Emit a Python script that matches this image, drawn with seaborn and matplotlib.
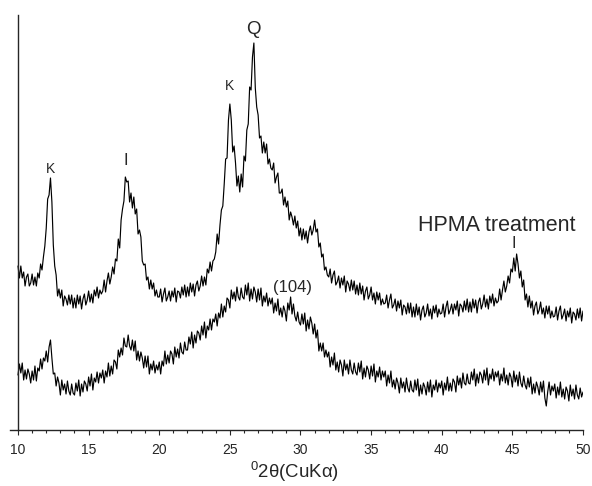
import numpy as np
import pandas as pd
import matplotlib
matplotlib.use('Agg')
import matplotlib.pyplot as plt
import seaborn as sns
from matplotlib.ticker import MultipleLocator

# XRD scans, 10-50 deg 2theta, step 0.1 deg, intensity in arbitrary units
# upper trace: HPMA treatment
upper = [
    164, 152, 164, 152, 158, 144, 153, 156, 144, 147,  # 10
    156, 145, 153, 144, 157, 152, 166, 160, 173, 184,  # 11
    202, 231, 235, 252, 228, 185, 164, 155, 134, 141,  # 12
    132, 140, 124, 134, 131, 125, 135, 126, 135, 122,  # 13
    132, 122, 135, 126, 134, 121, 131, 136, 125, 130,  # 14
    139, 128, 136, 127, 140, 134, 143, 132, 140, 136,  # 15
    139, 150, 138, 149, 157, 146, 153, 163, 156, 171,  # 16
    169, 191, 182, 210, 221, 229, 253, 248, 249, 228,  # 17
    237, 222, 233, 216, 221, 196, 200, 193, 169, 165,  # 18
    166, 150, 153, 141, 150, 141, 147, 134, 140, 133,  # 19
    133, 141, 128, 136, 142, 129, 133, 139, 129, 139,  # 20
    133, 142, 128, 139, 138, 132, 143, 135, 145, 133,  # 21
    143, 134, 147, 138, 146, 134, 145, 149, 139, 144,  # 22
    154, 144, 153, 145, 161, 157, 168, 159, 169, 171,  # 23
    178, 196, 186, 205, 220, 224, 246, 271, 272, 310,  # 24
    326, 310, 278, 284, 267, 244, 254, 238, 256, 243,  # 25
    274, 269, 300, 306, 343, 340, 373, 387, 342, 323,  # 26
    315, 292, 294, 277, 288, 277, 286, 266, 271, 262,  # 27
    260, 267, 247, 253, 257, 237, 237, 241, 225, 233,  # 28
    223, 229, 210, 218, 213, 205, 214, 202, 209, 194,  # 29
    202, 190, 201, 191, 199, 187, 198, 204, 195, 200,  # 30
    210, 198, 201, 183, 187, 173, 176, 160, 163, 155,  # 31
    153, 161, 147, 155, 159, 145, 148, 154, 142, 152,  # 32
    145, 154, 138, 149, 146, 139, 150, 140, 149, 136,  # 33
    145, 135, 147, 136, 144, 130, 139, 143, 131, 135,  # 34
    143, 130, 137, 126, 138, 130, 137, 125, 131, 126,  # 35
    127, 135, 122, 130, 136, 122, 125, 131, 119, 129,  # 36
    122, 130, 115, 125, 123, 116, 127, 117, 127, 113,  # 37
    123, 113, 126, 115, 123, 110, 120, 124, 113, 117,  # 38
    126, 114, 121, 111, 124, 117, 125, 113, 121, 116,  # 39
    117, 126, 113, 123, 129, 116, 120, 126, 116, 126,  # 40
    120, 129, 114, 126, 124, 118, 129, 120, 131, 118,  # 41
    128, 118, 131, 122, 130, 117, 128, 132, 121, 126,  # 42
    135, 123, 131, 121, 134, 127, 136, 124, 132, 127,  # 43
    129, 141, 130, 140, 149, 138, 144, 154, 147, 161,  # 44
    158, 172, 159, 176, 166, 152, 159, 143, 150, 130,  # 45
    136, 123, 134, 122, 129, 115, 124, 128, 116, 120,  # 46
    128, 116, 122, 112, 124, 116, 124, 112, 119, 113,  # 47
    114, 123, 110, 119, 124, 111, 115, 121, 109, 119,  # 48
    113, 122, 107, 118, 116, 110, 121, 112, 122, 109,  # 49
    119,
]
# lower trace: untreated
lower = [
    55, 66, 57, 67, 50, 60, 51, 61, 56, 47,  # 10
    59, 50, 64, 49, 62, 59, 71, 61, 72, 69,  # 11
    79, 68, 83, 90, 72, 56, 57, 44, 53, 47,  # 12
    35, 50, 40, 46, 36, 49, 39, 35, 46, 37,  # 13
    35, 47, 39, 50, 34, 46, 38, 49, 46, 39,  # 14
    53, 44, 56, 40, 52, 48, 58, 47, 57, 52,  # 15
    60, 47, 59, 53, 67, 54, 64, 56, 70, 68,  # 16
    61, 80, 73, 82, 75, 92, 84, 83, 95, 84,  # 17
    80, 90, 79, 89, 70, 79, 69, 78, 72, 62,  # 18
    74, 63, 74, 56, 66, 60, 69, 57, 65, 60,  # 19
    68, 56, 69, 64, 79, 66, 75, 67, 79, 76,  # 20
    66, 83, 73, 81, 72, 87, 78, 76, 88, 80,  # 21
    80, 93, 86, 98, 82, 95, 87, 99, 97, 90,  # 22
    104, 95, 108, 92, 104, 100, 111, 100, 111, 108,  # 23
    116, 104, 117, 112, 126, 113, 124, 118, 132, 130,  # 24
    122, 140, 131, 138, 129, 143, 133, 130, 142, 133,  # 25
    131, 145, 135, 147, 129, 141, 131, 143, 138, 128,  # 26
    141, 130, 142, 124, 134, 128, 137, 124, 132, 126,  # 27
    132, 117, 127, 119, 131, 115, 122, 113, 124, 119,  # 28
    109, 127, 120, 133, 116, 126, 114, 109, 118, 108,  # 29
    105, 116, 106, 117, 99, 110, 101, 113, 107, 96,  # 30
    106, 92, 100, 79, 87, 79, 87, 73, 80, 73,  # 31
    78, 63, 73, 65, 77, 60, 68, 58, 70, 65,  # 32
    54, 70, 60, 66, 56, 70, 60, 56, 67, 58,  # 33
    55, 67, 58, 69, 51, 62, 53, 64, 60, 51,  # 34
    64, 54, 66, 48, 59, 53, 63, 50, 59, 53,  # 35
    59, 44, 55, 47, 59, 43, 50, 41, 52, 47,  # 36
    37, 52, 42, 48, 38, 52, 42, 38, 49, 40,  # 37
    38, 50, 40, 51, 34, 45, 36, 47, 43, 35,  # 38
    48, 38, 50, 33, 45, 40, 50, 38, 47, 42,  # 39
    49, 35, 47, 40, 53, 39, 47, 39, 51, 48,  # 40
    38, 54, 45, 52, 42, 57, 47, 45, 56, 47,  # 41
    46, 58, 50, 61, 44, 56, 47, 58, 55, 47,  # 42
    60, 50, 62, 45, 56, 51, 61, 49, 58, 53,  # 43
    59, 45, 56, 49, 62, 47, 55, 45, 57, 53,  # 44
    43, 59, 48, 55, 44, 58, 47, 43, 54, 45,  # 45
    41, 52, 43, 53, 36, 46, 37, 48, 43, 35,  # 46
    48, 38, 49, 32, 24, 38, 48, 35, 44, 39,  # 47
    46, 32, 43, 35, 48, 33, 41, 31, 43, 39,  # 48
    29, 45, 34, 41, 31, 45, 35, 31, 42, 33,  # 49
    38,
]
two_theta = np.round(10 + 0.1 * np.arange(len(upper)), 1)

# peak labels: text, 2theta, baseline height, font size
peak_labels = [
    ("K", 12.27, 257, 10),
    ("I", 17.6, 265, 12),
    ("K", 25.0, 340, 10),
    ("Q", 26.64, 396, 13.5),
    ("(104)", 29.43, 138, 12),
    ("HPMA treatment", 43.88, 199, 15.5),
    ("I", 45.1, 182, 11.5),
]

sns.set_style("ticks")
plt.rcParams['font.family'] = ['Liberation Sans', 'DejaVu Sans']
plt.rcParams['mathtext.fontset'] = 'custom'
plt.rcParams['mathtext.rm'] = 'Liberation Sans'

df = pd.DataFrame({
    'two_theta': np.concatenate([two_theta, two_theta]),
    'intensity': upper + lower,
    'sample': ['HPMA'] * len(upper) + ['untreated'] * len(lower),
})

fig = plt.figure(figsize=(5.92, 4.86), dpi=100)
ax = fig.add_axes([10 / 592, 56 / 486, 573 / 592, 415 / 486])
sns.lineplot(data=df, x='two_theta', y='intensity', units='sample',
             estimator=None, color='black', lw=0.85, ax=ax)

ax.set_xlim(9.434, 50)
ax.set_ylim(0, 415)
ax.spines['left'].set_position(('data', 10))
ax.spines[['top', 'right']].set_visible(False)
for s in ['left', 'bottom']:
    ax.spines[s].set_linewidth(1.0)
ax.set_yticks([])
ax.xaxis.set_major_locator(MultipleLocator(5))
ax.xaxis.set_minor_locator(MultipleLocator(1))
ax.tick_params(axis='x', which='major', direction='out', length=3.6,
               width=0.8, pad=6, labelsize=10)
ax.tick_params(axis='x', which='minor', direction='out', length=2.2, width=0.8)
ax.set_xlabel('')
ax.set_ylabel('')

for txt, x, y, fs in peak_labels:
    ax.text(x, y, txt, ha='center', va='baseline', fontsize=fs, clip_on=False)

fig.text(295 / 592, 1 - 478 / 486, r'$^{0}$2θ(CuKα)', ha='center',
         va='baseline', fontsize=13.4)

fig.savefig('out.png', dpi=100)
